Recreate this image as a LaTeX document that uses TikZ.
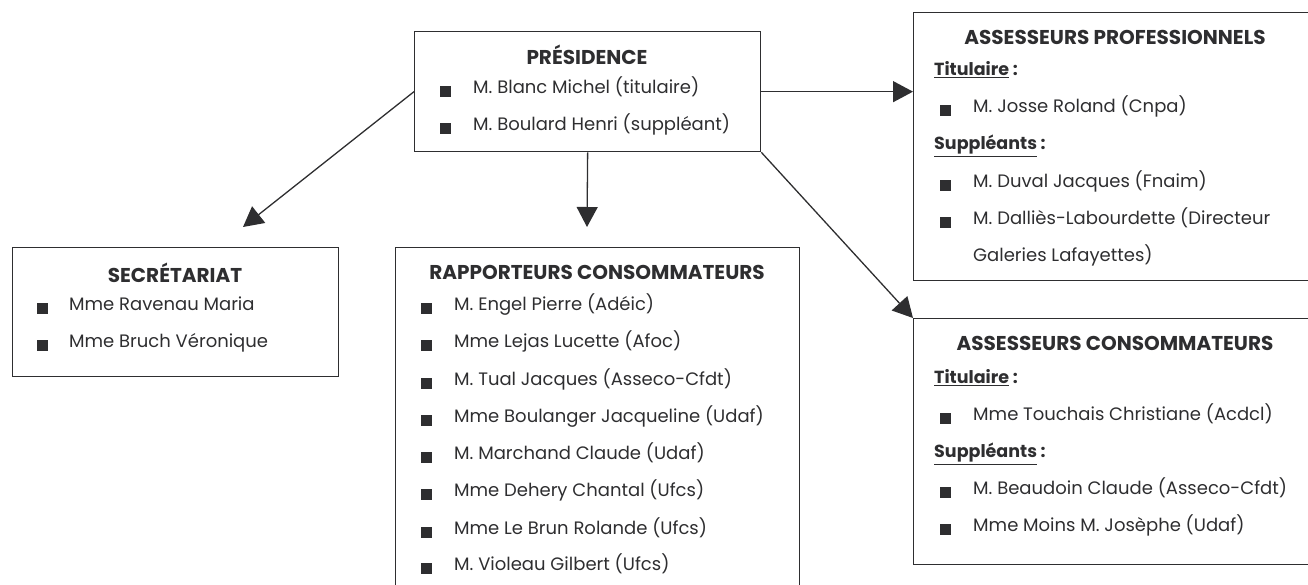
\documentclass[tikz,border=0pt]{standalone}
\usepackage{fontspec}
\setmainfont{Poppins}
\usetikzlibrary{arrows.meta}
\definecolor{ink}{HTML}{2E2E30}
\begin{document}
\begin{tikzpicture}[x=1pt,y=-1pt,
  box/.style={draw=ink, line width=1.3pt, inner sep=0pt, rectangle, anchor=north west},
  hd/.style={font=\bfseries\fontsize{20}{23}\selectfont, text=ink, inner sep=0pt},
  itm/.style={font=\fontsize{18}{21}\selectfont, text=ink, anchor=mid west, inner sep=0pt},
  sub/.style={font=\bfseries\fontsize{17.5}{20}\selectfont, text=ink, anchor=mid west, inner sep=0pt},
  bul/.style={fill=ink, minimum size=11pt, inner sep=0pt},
  arr/.style={draw=ink, line width=1.3pt, -{Triangle[length=20pt,width=21pt]}}]
\useasboundingbox (0,0) rectangle (1308,584);
\clip (0,0) rectangle (1308,584);
% boxes
\node[box, minimum width=346pt, minimum height=120pt] (pres) at (414,31) {};
\node[box, minimum width=326pt, minimum height=129pt] (secr) at (12,247) {};
\node[box, minimum width=404pt, minimum height=360pt] (rapp) at (395,247) {};
\node[box, minimum width=420pt, minimum height=268pt] (aprof) at (913,12) {};
\node[box, minimum width=420pt, minimum height=246pt] (acons) at (913,318) {};
% Présidence
\node[hd] (presT) at (587,55) {PRÉSIDENCE};
\foreach \t/\y [count=\i] in {{M. Blanc Michel (titulaire)}/91, {M. Boulard Henri (suppléant)}/128}{
  \node[bul] (presB\i) at (445,\y) {};
  \node[itm] (presI\i) at (473,\y) {\t};
}
% Secrétariat
\node[hd] (secrT) at (175,273) {SECRÉTARIAT};
\foreach \t/\y [count=\i] in {{Mme Ravenau Maria}/308, {Mme Bruch Véronique}/345}{
  \node[bul] (secrB\i) at (42,\y) {};
  \node[itm] (secrI\i) at (69,\y) {\t};
}
% Rapporteurs
\node[hd] (rappT) at (597,272) {RAPPORTEURS CONSOMMATEURS};
\foreach \t/\y [count=\i] in {{M. Engel Pierre (Adéic)}/308, {Mme Lejas Lucette (Afoc)}/345,
  {M. Tual Jacques (Asseco-Cfdt)}/383, {Mme Boulanger Jacqueline (Udaf)}/420,
  {M. Marchand Claude (Udaf)}/457, {Mme Dehery Chantal (Ufcs)}/494,
  {Mme Le Brun Rolande (Ufcs)}/532, {M. Violeau Gilbert (Ufcs)}/568}{
  \node[bul] (rappB\i) at (426,\y) {};
  \node[itm] (rappI\i) at (454,\y) {\t};
}
% Assesseurs professionnels
\node[hd] (aprofT) at (1115,37) {ASSESSEURS PROFESSIONNELS};
\node[sub] (aprofS1) at (934,73) {\underline{Titulaire} :};
\node[bul] (aprofB1) at (945,110) {};
\node[itm] (aprofI1) at (973,110) {M. Josse Roland (Cnpa)};
\node[sub] (aprofS2) at (934,147) {\underline{Suppléants} :};
\node[bul] (aprofB2) at (945,185) {};
\node[itm] (aprofI2) at (973,185) {M. Duval Jacques (Fnaim)};
\node[bul] (aprofB3) at (945,222) {};
\node[itm] (aprofI3) at (973,222) {M. Dalliès-Labourdette (Directeur};
\node[itm] (aprofI4) at (973,259) {Galeries Lafayettes)};
% Assesseurs consommateurs
\node[hd] (aconsT) at (1115,343) {ASSESSEURS CONSOMMATEURS};
\node[sub] (aconsS1) at (934,381) {\underline{Titulaire} :};
\node[bul] (aconsB1) at (945,418) {};
\node[itm] (aconsI1) at (973,418) {Mme Touchais Christiane (Acdcl)};
\node[sub] (aconsS2) at (934,455) {\underline{Suppléants} :};
\node[bul] (aconsB2) at (945,492) {};
\node[itm] (aconsI2) at (973,492) {M. Beaudoin Claude (Asseco-Cfdt)};
\node[bul] (aconsB3) at (945,529) {};
\node[itm] (aconsI3) at (973,529) {Mme Moins M. Josèphe (Udaf)};
% connectors
\coordinate (secrTip) at (243,227);
\coordinate (rappTip) at (587,227);
\draw[arr] (pres.west) -- (secrTip);
\draw[arr] (pres.south) -- (rappTip);
\draw[arr] (pres.east) -- (pres.east -| aprof.west);
\draw[arr] (pres.south east) -- (acons.north west);
\end{tikzpicture}
\end{document}
